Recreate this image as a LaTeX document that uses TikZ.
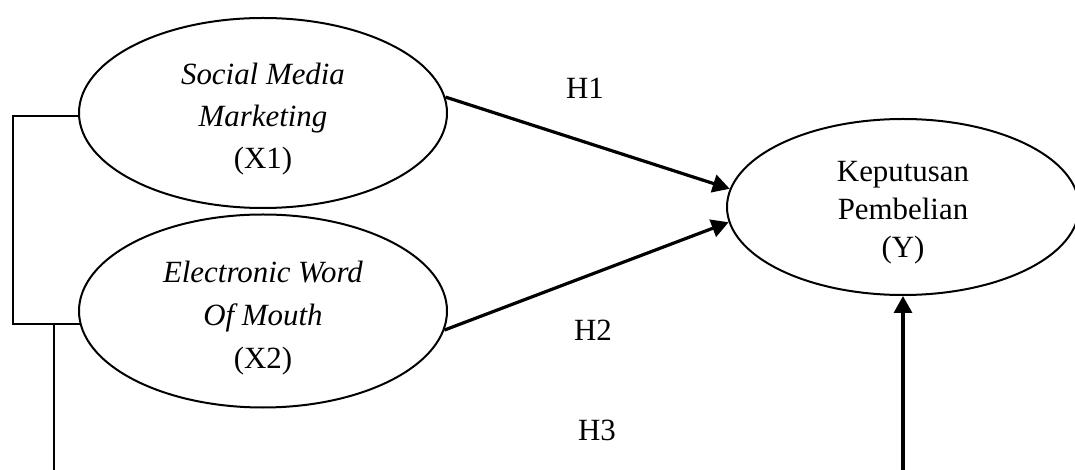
\documentclass[tikz,border=0pt]{standalone}
\usepackage{fontspec}
\setmainfont{Liberation Serif}
\usetikzlibrary{shapes.geometric,arrows.meta,calc}
\begin{document}
\begin{tikzpicture}[x=1bp,y=-1bp,
  var/.style={draw,ellipse,line width=2bp,inner sep=0pt},
  txt/.style={align=center,inner sep=0pt},
  lbl/.style={font=\fontsize{31}{41}\selectfont,inner sep=0pt},
  conn/.style={line width=2.2bp},
  arr/.style={line width=3.2bp,-{Triangle[length=17bp,width=18bp]}}]
\useasboundingbox (0,0) rectangle (1075,470);
\node[var,minimum width=368bp,minimum height=190bp] (x1) at (263,113) {};
\node[txt,font=\fontsize{31}{42.5}\selectfont] (x1t) at (263,119)
  {\textit{Social Media}\\\textit{Marketing}\\(X1)};
\node[var,minimum width=368bp,minimum height=193bp] (x2) at (263,311) {};
\node[txt,font=\fontsize{31}{43.5}\selectfont] (x2t) at (263,318)
  {\textit{Electronic Word}\\\textit{Of Mouth}\\(X2)};
\node[var,minimum width=352bp,minimum height=176bp] (y) at (903,207) {};
\node[txt,font=\fontsize{31}{38}\selectfont] (yt) at (903,213)
  {Keputusan\\Pembelian\\(Y)};
\node[lbl] (h1) at (585,88) {H1};
\node[lbl] (h2) at (593,330) {H2};
\node[lbl] (h3) at (597,430) {H3};
\coordinate (lft) at (13,0);
\coordinate (drop) at (54,470);
\coordinate (up) at (903,470);
\draw[arr] (x1.5) -- (y.174);
\draw[arr] (x2.-6) -- (y.185);
\draw[arr] (up) -- (y.south);
\draw[conn] (x1.181) -- (x1.181 -| lft) |- (x2.184);
\draw[conn] (x2.184 -| drop) -- (drop);
\end{tikzpicture}
\end{document}
